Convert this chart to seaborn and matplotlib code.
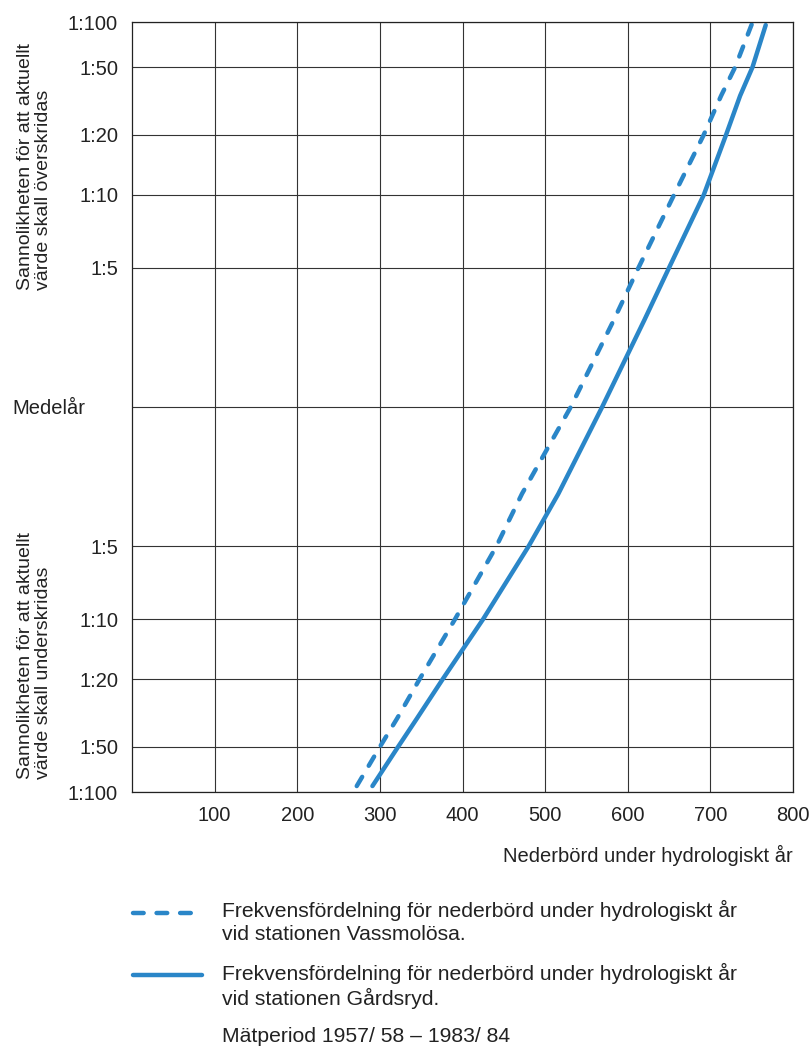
import matplotlib
matplotlib.use("Agg")
import matplotlib.pyplot as plt
from matplotlib.lines import Line2D
import seaborn as sns
import pandas as pd
from statistics import NormalDist

# y-axel: sannolikhet att värdet överskrids (normalfördelningsskala)
tick_probs = [0.01, 0.02, 0.05, 0.1, 0.2, 0.5, 0.8, 0.9, 0.95, 0.98, 0.99]
tick_labels = ["1:100", "1:50", "1:20", "1:10", "1:5", "",
               "1:5", "1:10", "1:20", "1:50", "1:100"]

# avlästa punkter på kurvorna (överskridandesannolikhet, mm)
vass_probs = [0.989, 0.98, 0.97, 0.95, 0.9, 0.8, 0.7, 0.5, 0.3, 0.2, 0.1,
              0.05, 0.03, 0.02, 0.0104]
vass_mm = [272, 300, 321, 348, 391, 441, 472, 531, 583, 613, 656,
           692, 713, 730, 750]
gard_probs = [0.989, 0.98, 0.97, 0.95, 0.9, 0.8, 0.7, 0.5, 0.3, 0.2, 0.1,
              0.05, 0.03, 0.02, 0.0105]
gard_mm = [291, 322, 345, 376, 425, 480, 516, 569, 620, 650, 692,
           719, 736, 751, 767]

x_ticks = [100, 200, 300, 400, 500, 600, 700, 800]

BLUE = "#2a86c8"
nd = NormalDist()


def z_of(p):
    # överskridandesannolikhet -> standardnormal kvantil
    return nd.inv_cdf(1 - p)


sns.set_style("white")
plt.rcParams['font.family'] = ['Liberation Sans', 'DejaVu Sans']
plt.rcParams['font.size'] = 14.5

fig = plt.figure(figsize=(8.12, 10.48), dpi=100)
W, H = 812, 1048
ax = fig.add_axes([132 / W, 1 - 792 / H, 661 / W, 770 / H])

df_v = pd.DataFrame({"mm": vass_mm, "z": [z_of(p) for p in vass_probs]})
df_g = pd.DataFrame({"mm": gard_mm, "z": [z_of(p) for p in gard_probs]})

sns.lineplot(data=df_v, x="mm", y="z", sort=False, estimator=None, ax=ax,
             color=BLUE, lw=3.2, dashes=False, linestyle=(0, (2.4, 2.9)),
             dash_capstyle="round", dash_joinstyle="round")
sns.lineplot(data=df_g, x="mm", y="z", sort=False, estimator=None, ax=ax,
             color=BLUE, lw=3.2, solid_capstyle="round",
             solid_joinstyle="round")

zmax = z_of(0.01)
ax.set_xlim(0, 800)
ax.set_ylim(-zmax, zmax)
ax.set_xticks(x_ticks)
ax.set_xticklabels([str(v) for v in x_ticks])
ax.set_yticks([z_of(p) for p in tick_probs])
ax.set_yticklabels(tick_labels)
ax.tick_params(length=0, pad=10, labelsize=14.5, colors="#222222")
ax.grid(True, color="#333333", lw=0.8)
ax.set_axisbelow(True)
for s in ax.spines.values():
    s.set_color("#222222")
    s.set_linewidth(0.9)
ax.set_xlabel("")
ax.set_ylabel("")

txt = dict(fontsize=14.5, color="#222222")

# Medelår vid nollnivån
fig.text(12 / W, 1 - 408 / H, "Medelår", ha="left", va="center", **txt)

# axeltitlar (roterade)
ttl = dict(fontsize=14, color="#222222")
fig.text(34.5 / W, 1 - 290 / H,
         "Sannolikheten för att aktuellt\nvärde skall överskridas",
         rotation=90, ha="center", va="bottom", multialignment="left",
         linespacing=1.15, **ttl)
fig.text(34.5 / W, 1 - 779 / H,
         "Sannolikheten för att aktuellt\nvärde skall underskridas",
         rotation=90, ha="center", va="bottom", multialignment="left",
         linespacing=1.15, **ttl)

fig.text(793 / W, 1 - 855 / H, "Nederbörd under hydrologiskt år",
         ha="right", va="center", **txt)

# teckenförklaring
fig.add_artist(Line2D([133 / W, 202 / W], [1 - 913 / H, 1 - 913 / H],
                      color=BLUE, lw=3.2, linestyle=(0, (2.4, 2.9)),
                      dash_capstyle="round"))
fig.add_artist(Line2D([133 / W, 202 / W], [1 - 975 / H, 1 - 975 / H],
                      color=BLUE, lw=3.2, solid_capstyle="round"))
leg = dict(fontsize=15.2, color="#222222")
fig.text(222 / W, 1 - 922 / H,
         "Frekvensfördelning för nederbörd under hydrologiskt år\nvid stationen Vassmolösa.",
         ha="left", va="center", linespacing=1.27, **leg)
fig.text(222 / W, 1 - 986 / H,
         "Frekvensfördelning för nederbörd under hydrologiskt år\nvid stationen Gårdsryd.",
         ha="left", va="center", linespacing=1.27, **leg)
fig.text(222 / W, 1 - 1037 / H, "Mätperiod 1957/ 58 – 1983/ 84",
         ha="left", va="center", **leg)

fig.savefig("out.png", dpi=100)
